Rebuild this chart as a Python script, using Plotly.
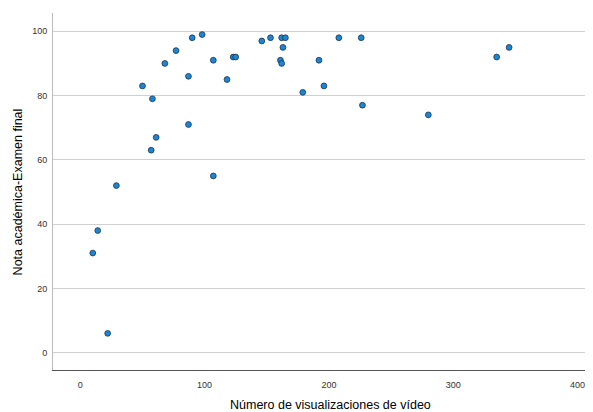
import plotly.graph_objects as go

visualizaciones = [10, 14, 22, 29, 50, 57, 58, 61, 68, 77, 87, 87, 90, 98, 107, 107,
                   118, 123, 125, 146, 153, 161, 162, 162, 163, 165, 179, 192, 196,
                   208, 226, 227, 280, 335, 345]
nota = [31, 38, 6, 52, 83, 63, 79, 67, 90, 94, 86, 71, 98, 99, 91, 55,
        85, 92, 92, 97, 98, 91, 90, 98, 95, 98, 81, 91, 83,
        98, 98, 77, 74, 92, 95]

x_ticks = [0, 100, 200, 300, 400]
y_ticks = [0, 20, 40, 60, 80, 100]

x_title = "Número de visualizaciones de vídeo"
y_title = "Nota académica-Examen final"

fig = go.Figure()
fig.add_trace(go.Scatter(
    x=visualizaciones, y=nota, mode="markers",
    marker=dict(size=5.8, color="#1a86d8", line=dict(color="#1f3347", width=0.8)),
    showlegend=False, hoverinfo="x+y",
))

tick_font = dict(size=9, color="#333", family="Liberation Sans Narrow, Liberation Sans, Arial")

# page body has an 8px default margin, so the figure is sized 8px smaller
fig.update_layout(
    width=585, height=404,
    margin=dict(l=45, r=0, t=5, b=42, autoexpand=False),
    paper_bgcolor="white", plot_bgcolor="white",
    font=dict(family="Liberation Sans, Arial, sans-serif", color="#222"),
    xaxis=dict(
        range=[-22, 412.5], tickvals=x_ticks, ticktext=[str(v) for v in x_ticks],
        showgrid=False, zeroline=False, automargin=False,
        showline=True, linecolor="#555", linewidth=1,
        ticks="outside", ticklen=6, tickcolor="rgba(0,0,0,0)",
        tickfont=tick_font,
    ),
    yaxis=dict(
        range=[-5.4, 105.7], tickvals=y_ticks, ticktext=[str(v) for v in y_ticks],
        showgrid=True, gridcolor="#d0d0d0", gridwidth=1.4, zeroline=False, automargin=False,
        showline=True, linecolor="#bbb", linewidth=1,
        ticks="outside", ticklen=3, tickcolor="rgba(0,0,0,0)",
        tickfont=tick_font,
    ),
    annotations=[
        dict(text=x_title, xref="paper", yref="paper", x=0.513, y=-0.098,
             xanchor="center", yanchor="middle", showarrow=False,
             font=dict(size=12.5, color="#000")),
        dict(text=y_title, xref="paper", yref="paper", x=-0.065, y=0.5,
             xanchor="center", yanchor="middle", textangle=-90, showarrow=False,
             font=dict(size=12.5, color="#000")),
    ],
)

fig.write_html("out.html")
